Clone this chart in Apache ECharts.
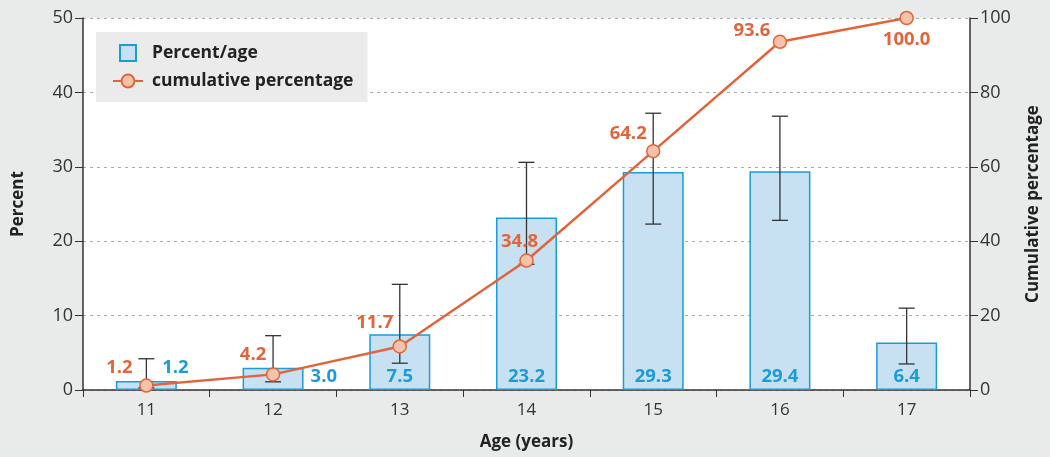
<!DOCTYPE html>
<html>
<head>
<meta charset="utf-8">
<script src="https://cdn.jsdelivr.net/npm/echarts@6/dist/echarts.min.js"></script>
<style>
  html, body { margin: 0; padding: 0; background: #e9eaea; }
  #chart { width: 1050px; height: 457px; }
</style>
</head>
<body>
<div id="chart"></div>
<script>
const ages = ['11', '12', '13', '14', '15', '16', '17']
const percentPerAge = [1.2, 3.0, 7.5, 23.2, 29.3, 29.4, 6.4]
const errLow = [0.3, 1.1, 3.6, 16.9, 22.3, 22.8, 3.5]
const errHigh = [4.2, 7.3, 14.2, 30.6, 37.2, 36.8, 11.0]
const cumulative = [1.2, 4.2, 11.7, 34.8, 64.2, 93.6, 100.0]
const leftTicks = [0, 10, 20, 30, 40, 50]
const rightTicks = [0, 20, 40, 60, 80, 100]

const font = '"Open Sans", "Noto Sans", sans-serif'
const blue = '#1b9bd7'
const orange = '#e2643b'

// label tweaks per point so they sit where the original puts them
const cumOffsets = [[-27, 4], [-20, 2], [-25, -2], [-7, 3], [-25, 4], [-28, 11], [0, 0]]
const barLabelPos = ['top', 'right', 'insideBottom', 'insideBottom', 'insideBottom', 'insideBottom', 'insideBottom']
const barLabelOff = [[29, 0], [3, -2], [0, 0], [0, 0], [0, 0], [0, 0], [0, 0]]

const chart = echarts.init(document.getElementById('chart'))

chart.setOption({
  backgroundColor: '#e9eaea',
  animation: false,
  grid: {
    left: 83, right: 78, top: 18, bottom: 67,
    show: true, backgroundColor: '#fff', borderWidth: 0
  },
  legend: {
    left: 96, top: 32,
    padding: [12, 14, 12, 16],
    orient: 'vertical',
    backgroundColor: '#ebebeb',
    itemGap: 10,
    itemWidth: 30, itemHeight: 16,
    textStyle: { fontFamily: font, fontSize: 17.5, fontWeight: 'bold', color: '#222', padding: [0, 0, 0, 4] },
    data: [
      { name: 'Percent/age', icon: 'path://M7,0 H23 V16 H7 Z' },
      { name: 'cumulative percentage' }
    ]
  },
  xAxis: {
    type: 'category',
    data: ages,
    boundaryGap: true,
    name: 'Age (years)',
    nameLocation: 'middle',
    nameGap: 44,
    nameTextStyle: { fontFamily: font, fontSize: 17, fontWeight: 'bold', color: '#222' },
    axisLine: { lineStyle: { color: '#333', width: 1.5 } },
    axisTick: { show: true, length: 7, lineStyle: { color: '#333' } },
    axisLabel: { fontFamily: font, fontSize: 17, color: '#333', margin: 12 }
  },
  yAxis: [{
    type: 'value',
    min: 0, max: 50, interval: 10,
    name: 'Percent',
    nameLocation: 'middle',
    nameGap: 56,
    nameTextStyle: { fontFamily: font, fontSize: 17, fontWeight: 'bold', color: '#222' },
    axisLine: { show: true, lineStyle: { color: '#333', width: 1.5 } },
    axisTick: { show: true, length: 8, lineStyle: { color: '#333' } },
    axisLabel: {
      fontFamily: font, fontSize: 18, color: '#333', margin: 10,
      formatter: v => leftTicks.includes(v) ? String(v) : ''
    },
    splitLine: { show: true, lineStyle: { color: '#aaa', type: [3, 4] } }
  }, {
    type: 'value',
    min: 0, max: 100, interval: 20,
    name: 'Cumulative percentage',
    nameLocation: 'middle',
    nameGap: 55,
    nameRotate: 90,
    nameTextStyle: { fontFamily: font, fontSize: 17, fontWeight: 'bold', color: '#222' },
    axisLine: { show: true, lineStyle: { color: '#333', width: 1.5 } },
    axisTick: { show: true, length: 8, lineStyle: { color: '#333' } },
    axisLabel: {
      fontFamily: font, fontSize: 18, color: '#333', margin: 10,
      formatter: v => rightTicks.includes(v) ? String(v) : ''
    },
    splitLine: { show: false }
  }],
  series: [{
    name: 'Percent/age',
    type: 'bar',
    yAxisIndex: 0,
    barWidth: 61,
    itemStyle: { color: '#c7e1f3', borderColor: blue, borderWidth: 1.5 },
    data: percentPerAge.map((v, i) => ({
      value: v,
      label: {
        show: true,
        position: barLabelPos[i],
        offset: barLabelOff[i],
        distance: 4,
        formatter: v.toFixed(1),
        fontFamily: font, fontSize: 18.5, fontWeight: 'bold', color: blue
      }
    }))
  }, {
    name: 'errors',
    type: 'custom',
    yAxisIndex: 0,
    z: 5,
    data: ages.map((a, i) => [i, errLow[i], errHigh[i]]),
    renderItem: (params, api) => {
      const lo = api.coord([api.value(0), api.value(1)])
      const hi = api.coord([api.value(0), api.value(2)])
      const hw = 8
      const st = { stroke: '#333', lineWidth: 1.3 }
      return {
        type: 'group',
        children: [
          { type: 'line', shape: { x1: lo[0], y1: lo[1], x2: hi[0], y2: hi[1] }, style: st },
          { type: 'line', shape: { x1: hi[0] - hw, y1: hi[1], x2: hi[0] + hw, y2: hi[1] }, style: st },
          { type: 'line', shape: { x1: lo[0] - hw, y1: lo[1], x2: lo[0] + hw, y2: lo[1] }, style: st }
        ]
      }
    }
  }, {
    name: 'cumulative percentage',
    type: 'line',
    yAxisIndex: 1,
    z: 10,
    symbol: 'circle',
    symbolSize: 13,
    lineStyle: { color: orange, width: 2.5 },
    itemStyle: { color: '#f4c3a9', borderColor: orange, borderWidth: 1.5 },
    data: cumulative.map((v, i) => ({
      value: v,
      label: {
        show: true,
        position: i === cumulative.length - 1 ? 'bottom' : 'top',
        offset: cumOffsets[i],
        formatter: v.toFixed(1),
        fontFamily: font, fontSize: 18.5, fontWeight: 'bold', color: orange
      }
    }))
  }]
})
</script>
</body>
</html>
